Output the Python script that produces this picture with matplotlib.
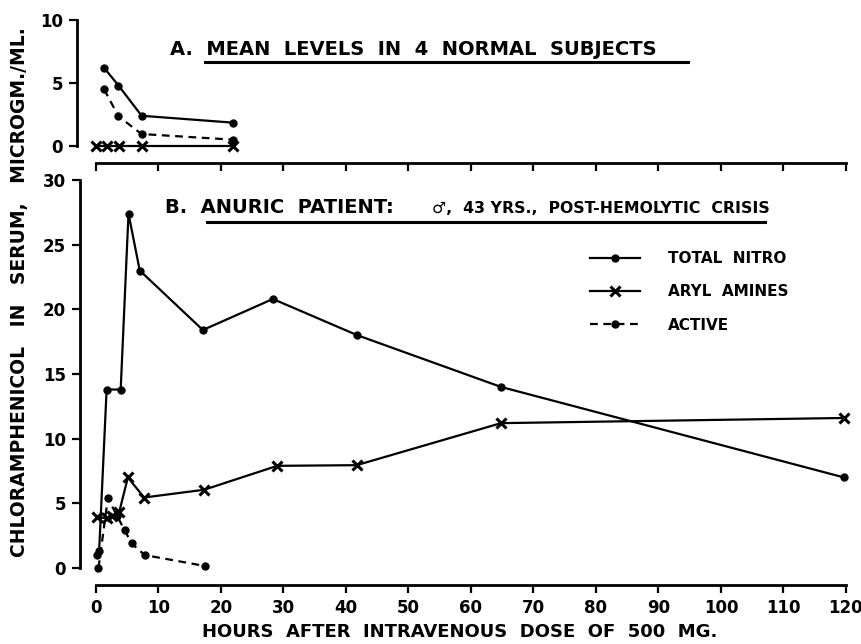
import matplotlib
matplotlib.use("Agg")
import matplotlib.pyplot as plt
from matplotlib.lines import Line2D

# ---- Data ----
# Panel A: mean levels in 4 normal subjects
a_hours_nitro = [1.3, 3.6, 7.3, 22]
a_total_nitro = [6.2, 4.8, 2.4, 1.85]
a_active = [4.5, 2.35, 0.95, 0.5]
a_hours_aryl = [0, 1.7, 3.7, 7.3, 22]
a_aryl = [0, 0, 0, 0, 0]

# Panel B: anuric patient
b_hours_nitro = [0.1, 0.5, 1.7, 3.95, 5.2, 7.0, 17.1, 28.3, 41.8, 64.8, 119.7]
b_total_nitro = [1.0, 1.3, 13.8, 13.8, 27.4, 23.0, 18.4, 20.8, 18.0, 14.0, 7.0]
b_hours_aryl = [0.1, 1.7, 2.5, 3.7, 5.1, 7.7, 17.3, 29.0, 41.7, 64.8, 119.7]
b_aryl = [3.95, 3.85, 4.0, 4.3, 7.0, 5.45, 6.05, 7.9, 7.95, 11.2, 11.6]
b_hours_active = [0.4, 1.9, 3.4, 4.6, 5.7, 7.8, 17.5]
b_active = [0.0, 5.4, 4.0, 2.9, 1.9, 1.0, 0.15]

x_ticks = list(range(0, 121, 10))
yA_ticks = [0, 5, 10]
yB_ticks = [0, 5, 10, 15, 20, 25, 30]

legend_labels = ["TOTAL  NITRO", "ARYL  AMINES", "ACTIVE"]

W, H = 862, 644
fig = plt.figure(figsize=(W / 100, H / 100), dpi=100)
plt.rcParams['font.family'] = ['DejaVu Sans']

def fx(px):
    return px / W

def fy(py):
    return 1 - py / H

# axes placements (pixel based)
x0, x1 = 96, 846
axB = fig.add_axes([fx(x0), fy(568), fx(x1) - fx(x0), fy(180) - fy(568)])
axA = fig.add_axes([fx(x0), fy(146), fx(x1) - fx(x0), fy(20) - fy(146)])

lw = 1.6
dot = dict(marker='o', markersize=5, color='black', linewidth=lw, clip_on=False)
cross = dict(marker='x', markersize=7, markeredgewidth=2.2, color='black', linewidth=lw, clip_on=False)
dash = dict(marker='o', markersize=5, color='black', linewidth=lw, linestyle=(0, (3.5, 2.5)), clip_on=False)

# Panel A
axA.plot(a_hours_nitro, a_total_nitro, **dot)
axA.plot(a_hours_nitro, a_active, **dash)
axA.plot(a_hours_aryl, a_aryl, **cross)

# Panel B
lN, = axB.plot(b_hours_nitro, b_total_nitro, **dot)
lX, = axB.plot(b_hours_aryl, b_aryl, **cross)
lA, = axB.plot(b_hours_active, b_active, **dash)

tick_font = dict(fontsize=12, fontweight='bold')

for ax, yt, ylim, left_out, bottom_out in [(axA, yA_ticks, (0, 10), 19, 17), (axB, yB_ticks, (0, 30), 16, 17)]:
    ax.set_xlim(0, 120)
    ax.set_ylim(*ylim)
    ax.spines['top'].set_visible(False)
    ax.spines['right'].set_visible(False)
    ax.spines['left'].set_position(('outward', left_out * 0.72))
    ax.spines['bottom'].set_position(('outward', bottom_out * 0.72))
    ax.spines['left'].set_linewidth(2)
    ax.spines['bottom'].set_linewidth(2)
    ax.set_xticks(x_ticks)
    ax.set_yticks(yt)
    ax.tick_params(axis='both', direction='out', length=6, width=1.6, pad=4)
    ax.patch.set_visible(False)
    for lab in ax.get_yticklabels():
        lab.set_fontsize(12)
        lab.set_fontweight('bold')

axA.set_xticklabels([])
axB.set_xticklabels([str(t) for t in x_ticks], **tick_font)

# Legend
axB.legend(handles=[lN, lX, lA], labels=legend_labels, loc='upper left',
           frameon=False, handlelength=3.3, handletextpad=1.8, labelspacing=1.2,
           borderaxespad=0, borderpad=0,
           prop=dict(size=11, weight='bold'))
leg = axB.get_legend()
leg.set_bbox_to_anchor((fx(590), fy(251)), transform=fig.transFigure)

# Titles
fig.text(fx(170), fy(55), "A.  MEAN  LEVELS  IN  4  NORMAL  SUBJECTS", fontsize=14,
         fontweight='bold', ha='left', va='baseline')
fig.add_artist(Line2D([fx(205), fx(688)], [fy(62), fy(62)], color='black', linewidth=2.2))

fig.text(fx(165), fy(213), "B.  ANURIC  PATIENT:", fontsize=14,
         fontweight='bold', ha='left', va='baseline')
fig.text(fx(432), fy(213), "\u2642,  43 YRS.,  POST-HEMOLYTIC  CRISIS", fontsize=11.3,
         fontweight='bold', ha='left', va='baseline')
fig.add_artist(Line2D([fx(207), fx(765)], [fy(222), fy(222)], color='black', linewidth=2.2))

# Axis labels
fig.text(fx(20), fy(292), "CHLORAMPHENICOL   IN   SERUM,   MICROGM./ML.", rotation=90,
         fontsize=13.5, fontweight='bold', ha='center', va='center')
fig.text(fx(460), fy(632), "HOURS  AFTER  INTRAVENOUS  DOSE  OF  500  MG.",
         fontsize=13, fontweight='bold', ha='center', va='center')

fig.savefig("out.png", dpi=100)
